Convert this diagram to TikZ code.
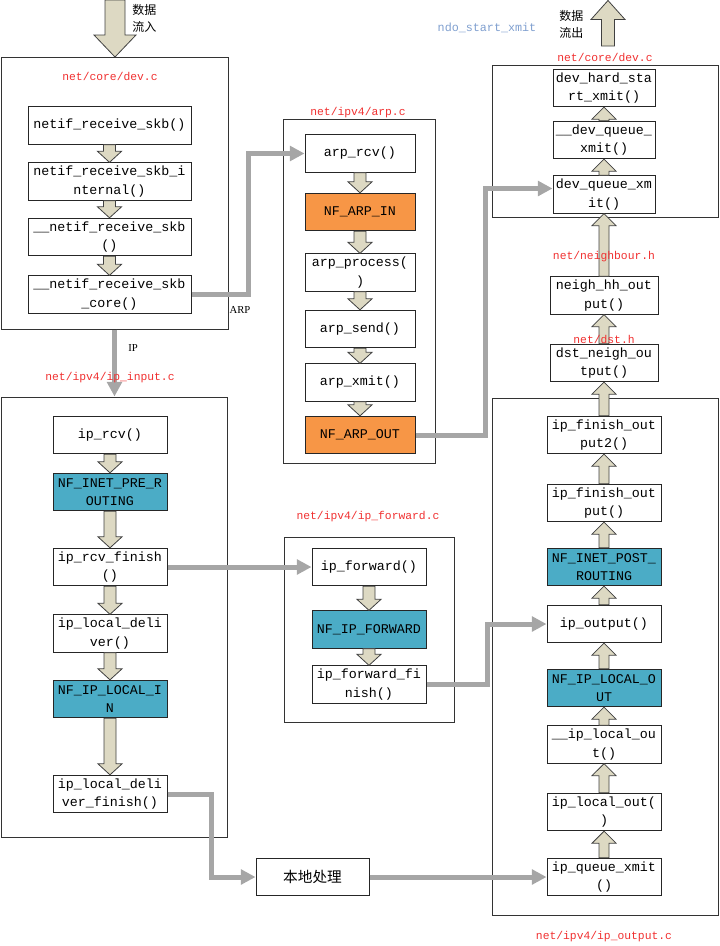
\documentclass[tikz,border=0pt]{standalone}
\usepackage{fontspec}
\setmainfont{Liberation Serif}
\newfontfamily\mono{Liberation Mono}
\newfontfamily\cjk{Noto Sans CJK SC}
\usetikzlibrary{calc,arrows.meta}
\definecolor{connc}{HTML}{A6A6A6}
\definecolor{barfill}{HTML}{DDD9C3}
\definecolor{barline}{HTML}{404040}
\definecolor{hkorange}{HTML}{F79646}
\definecolor{hkblue}{HTML}{4BACC6}
\definecolor{lblred}{HTML}{F03030}
\definecolor{lblblue}{HTML}{7F9FCF}
\tikzset{
  fn/.style={draw=black!85, fill=white, line width=0.75pt, inner sep=0pt, align=center,
    font={\mono\fontsize{10}{14}\selectfont}, minimum height=28pt},
  orangebox/.style={fn, fill=hkorange},
  bluebox/.style={fn, fill=hkblue},
  colL/.style={minimum width=122.25pt},
  colA/.style={minimum width=82.5pt},
  colD/.style={minimum width=76.5pt},
  colN/.style={minimum width=81pt},
  colO/.style={minimum width=85.5pt},
  cont/.style={draw=black!80, line width=0.75pt, inner sep=0pt},
  srclbl/.style={text=lblred, font={\mono\fontsize{8.5}{10}\selectfont}},
  barrow/.style={fill=barfill, draw=barline, line width=0.6pt, line join=miter},
  conn/.style={draw=connc, line width=3.75pt, -{Triangle[length=11pt,width=11pt]}},
}
\newcommand\cont[5]{\node[cont, minimum width={(#4-#2)*0.75pt}, minimum height={(#5-#3)*0.75pt}] (#1) at ({(#2+#4)/2},{(#3+#5)/2}) {};}
% down block arrow from #1 to #2
\newcommand\bdn[2]{\draw[barrow] ($(#1.south)+(-6,0)$) -- ($(#1.south)+(6,0)$) -- ($(#1.south |- #2.north)+(6,-11)$) -- ($(#1.south |- #2.north)+(12,-11)$) -- (#1.south |- #2.north) -- ($(#1.south |- #2.north)+(-12,-11)$) -- ($(#1.south |- #2.north)+(-6,-11)$) -- cycle;}
% up block arrow from #1 (below) to #2 (above)
\newcommand\bup[2]{\draw[barrow] ($(#1.north)+(-5,0)$) -- ($(#1.north)+(5,0)$) -- ($(#1.north |- #2.south)+(5,12)$) -- ($(#1.north |- #2.south)+(12,12)$) -- (#1.north |- #2.south) -- ($(#1.north |- #2.south)+(-12,12)$) -- ($(#1.north |- #2.south)+(-5,12)$) -- cycle;}
\begin{document}
\begin{tikzpicture}[x=0.75pt,y=-0.75pt]
\useasboundingbox (0,0) rectangle (719,946);

% containers
\cont{C1}{1}{57}{228}{329}
\cont{C2}{283}{119}{435}{463}
\cont{C3}{492}{65}{718}{217}
\cont{C4}{492}{398}{718}{915}
\cont{C5}{1}{397}{227}{837}
\cont{C6}{284}{537}{454}{722}

% left dev.c
\node[fn,colL] (n1) at (109.5,125.5) {netif\_receive\_skb()};
\node[fn,colL] (n2) at (109.5,181.5) {netif\_receive\_skb\_i\\nternal()};
\node[fn,colL] (n3) at (109.5,237) {\_\_netif\_receive\_skb\\()};
\node[fn,colL] (n4) at (109.5,294.5) {\_\_netif\_receive\_skb\\\_core()};

% arp
\node[fn,colA] (a1) at (360,153.5) {arp\_rcv()};
\node[orangebox,colA] (a2) at (360,212) {NF\_ARP\_IN};
\node[fn,colA] (a3) at (360,272.5) {arp\_process(\\)};
\node[fn,colA] (a4) at (360,329) {arp\_send()};
\node[fn,colA] (a5) at (360,382.5) {arp\_xmit()};
\node[orangebox,colA] (a6) at (360,435) {NF\_ARP\_OUT};

% right dev.c
\node[fn,colD] (d1) at (604,88) {dev\_hard\_sta\\rt\_xmit()};
\node[fn,colD] (d2) at (604,140) {\_\_dev\_queue\_\\xmit()};
\node[fn,colD] (d3) at (604,194.5) {dev\_queue\_xm\\it()};
\node[fn,colN] (h1) at (604,295.5) {neigh\_hh\_out\\put()};
\node[fn,colN] (h2) at (604,363) {dst\_neigh\_ou\\tput()};

% ip_output
\node[fn,colO] (o1) at (604,435) {ip\_finish\_out\\put2()};
\node[fn,colO] (o2) at (604,503) {ip\_finish\_out\\put()};
\node[bluebox,colO] (o3) at (604,567) {NF\_INET\_POST\_\\ROUTING};
\node[fn,colO] (o4) at (604,624) {ip\_output()};
\node[bluebox,colO] (o5) at (604,688) {NF\_IP\_LOCAL\_O\\UT};
\node[fn,colO] (o6) at (604,744.5) {\_\_ip\_local\_ou\\t()};
\node[fn,colO] (o7) at (604,812) {ip\_local\_out(\\)};
\node[fn,colO] (o8) at (604,877) {ip\_queue\_xmit\\()};

% ip_input
\node[fn,colO] (i1) at (110,435) {ip\_rcv()};
\node[bluebox,colO] (i2) at (110,492) {NF\_INET\_PRE\_R\\OUTING};
\node[fn,colO] (i3) at (110,567) {ip\_rcv\_finish\\()};
\node[fn,colO] (i4) at (110,633.5) {ip\_local\_deli\\ver()};
\node[bluebox,colO] (i5) at (110,699) {NF\_IP\_LOCAL\_I\\N};
\node[fn,colO] (i6) at (110,794) {ip\_local\_deli\\ver\_finish()};

% ip_forward
\node[fn,colO] (f1) at (369,567) {ip\_forward()};
\node[bluebox,colO] (f2) at (369,629.5) {NF\_IP\_FORWARD};
\node[fn,colO] (f3) at (369,684.5) {ip\_forward\_fi\\nish()};

% local processing
\node[fn,minimum width=84.75pt,font={\cjk\fontsize{11}{13}\selectfont}] (L) at (312.5,877) {本地处理};

% block arrows
\bdn{n1}{n2} \bdn{n2}{n3} \bdn{n3}{n4}
\bdn{a1}{a2} \bdn{a2}{a3} \bdn{a3}{a4} \bdn{a4}{a5} \bdn{a5}{a6}
\bdn{i1}{i2} \bdn{i2}{i3} \bdn{i3}{i4} \bdn{i4}{i5} \bdn{i5}{i6}
\bdn{f1}{f2} \bdn{f2}{f3}
\bup{o8}{o7} \bup{o7}{o6} \bup{o6}{o5} \bup{o5}{o4} \bup{o4}{o3} \bup{o3}{o2} \bup{o2}{o1}
\bup{o1}{h2} \bup{h2}{h1} \bup{h1}{d3} \bup{d3}{d2} \bup{d2}{d1}

% data in / out big arrows
\coordinate (inTop) at (115,0);
\coordinate (inTip) at (115,57);
\draw[barrow] ($(inTop)+(-10,0)$) -- ($(inTop)+(10,0)$) -- ($(inTip)+(10,-22)$) -- ($(inTip)+(21,-22)$) -- (inTip) -- ($(inTip)+(-21,-22)$) -- ($(inTip)+(-10,-22)$) -- cycle;
\coordinate (outBot) at (608,46);
\coordinate (outTip) at (608,0.5);
\draw[barrow] ($(outBot)+(-6.5,0)$) -- ($(outBot)+(6.5,0)$) -- ($(outTip)+(6.5,19)$) -- ($(outTip)+(17,19)$) -- (outTip) -- ($(outTip)+(-17,19)$) -- ($(outTip)+(-6.5,19)$) -- cycle;

% gray connectors
\draw[conn] (n4.east) -- ++(57,0) |- (a1.west);
\draw[conn] (C1.south) -- (C1.south |- C5.north);
\draw[conn] (a6.east) -- ++(70,0) |- ([yshift=4.5pt]d3.west);
\draw[conn] (i3.east) -- (f1.west);
\draw[conn] (f3.east) -- ++(61,0) |- (o4.west);
\draw[conn] (i6.east) -- ++(44,0) |- (L.west);
\draw[conn] (L.east) -- (o8.west);

% labels
\node[srclbl] (s1) at (110,76) {net/core/dev.c};
\node[srclbl] (s2) at (358,113) {net/ipv4/arp.c};
\node[srclbl] (s3) at (605,57) {net/core/dev.c};
\node[srclbl] (s4) at (604,257) {net/neighbour.h};
\node[srclbl] (s5) at (604,339) {net/dst.h};
\node[srclbl] (s6) at (604,937) {net/ipv4/ip\_output.c};
\node[srclbl] (s7) at (110,378) {net/ipv4/ip\_input.c};
\node[srclbl] (s8) at (368,517) {net/ipv4/ip\_forward.c};
\node[text=lblblue, font={\mono\fontsize{8.8}{10}\selectfont}] (ndo) at (487,28) {ndo\_start\_xmit};
\node[font=\fontsize{8}{9}\selectfont] (arpl) at (240,310) {ARP};
\node[font=\fontsize{8}{9}\selectfont] (ipl) at (133,348) {IP};
\node[anchor=north west, align=left, inner sep=0pt, font={\cjk\fontsize{9}{12.5}\selectfont}] (din) at (132,4) {数据\\流入};
\node[anchor=north west, align=left, inner sep=0pt, font={\cjk\fontsize{9}{12.5}\selectfont}] (dout) at (559,10) {数据\\流出};
\end{tikzpicture}
\end{document}
